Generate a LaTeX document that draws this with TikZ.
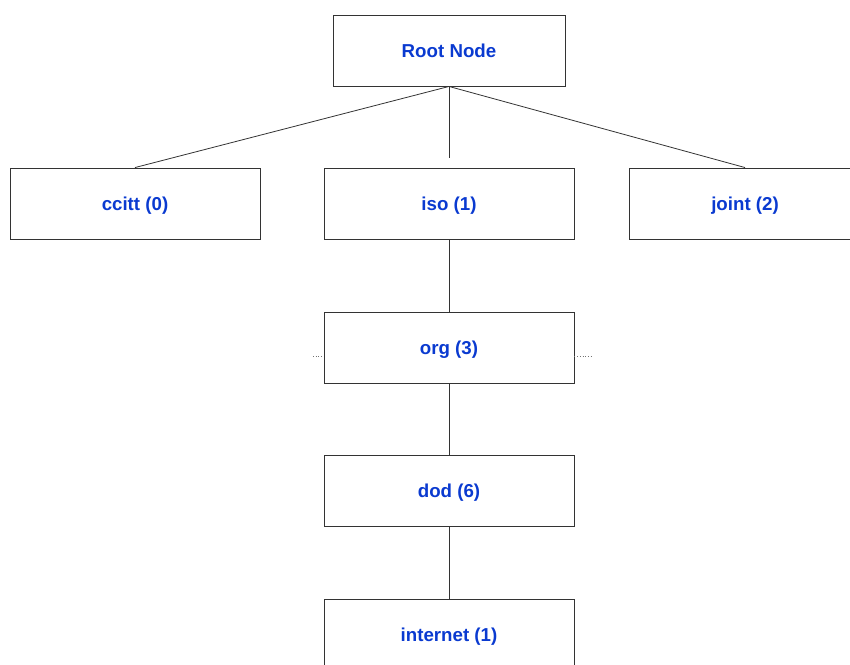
\documentclass[tikz,border=0pt]{standalone}
\usepackage{fontspec}
\setmainfont{Liberation Sans}
\begin{document}
\begin{tikzpicture}[x=1pt,y=-1pt,
  box/.style={draw=black!80, line width=0.9pt, minimum width=250pt, minimum height=71pt, inner sep=0pt,
    text height=13.6pt, text depth=0pt,
    font=\fontsize{18.7}{21}\selectfont\bfseries},
  conn/.style={draw=black!80, line width=0.8pt},
  dots/.style={draw=black!55, line width=0.7pt, dotted}]
\useasboundingbox (0,0) rectangle (850,664);
\definecolor{lblue}{HTML}{0A3AD0}
\tikzset{box/.append style={text=lblue}}
\node[box, minimum width=232pt] (root) at (449,50.5) {Root Node};
\node[box] (ccitt) at (135,203.5) {ccitt (0)};
\node[box] (iso) at (449,203.5) {iso (1)};
\node[box, minimum width=232pt] (joint) at (745,203.5) {joint (2)};
\node[box] (org) at (449,347.5) {org (3)};
\node[box] (dod) at (449,490.5) {dod (6)};
\node[box] (internet) at (449,634.5) {internet (1)};
\coordinate (isoend) at (449,158);
\coordinate (orgl) at (313,356);
\coordinate (orgr) at (592,356);
\draw[conn] (root.south) -- (ccitt.north);
\draw[conn] (root.south) -- (isoend);
\draw[conn] (root.south) -- (joint.north);
\draw[conn] (iso.south) -- (org.north);
\draw[conn] (org.south) -- (dod.north);
\draw[conn] (dod.south) -- (internet.north);
\draw[dots] (orgl) -- (orgl -| org.west);
\draw[dots] (orgr -| org.east) -- (orgr);
\end{tikzpicture}
\end{document}
